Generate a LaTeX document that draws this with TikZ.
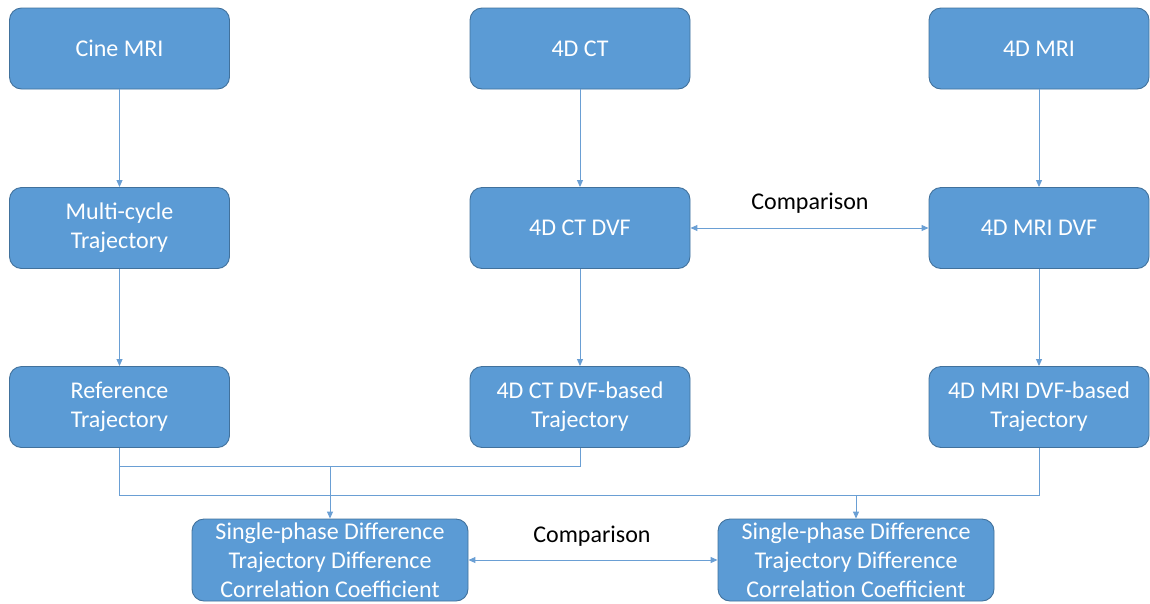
\documentclass[tikz,border=0pt]{standalone}
\usepackage{fontspec}
\setmainfont{Carlito}
\usetikzlibrary{arrows.meta}
\definecolor{boxfill}{HTML}{5B9BD5}
\definecolor{boxdraw}{HTML}{41719C}
\definecolor{linec}{HTML}{6A9FD4}
\begin{document}
\begin{tikzpicture}[x=1pt,y=-1pt,
  box/.style={draw=boxdraw, fill=boxfill, rounded corners=12pt, line width=0.9pt,
    text=white, align=center, font=\fontsize{24}{29}\selectfont,
    minimum width=220pt, minimum height=81pt, inner sep=0pt},
  wide/.style={box, minimum width=276pt, minimum height=82pt},
  lbl/.style={font=\fontsize{24}{28}\selectfont, text=black, inner sep=0pt},
  conn/.style={draw=linec, line width=1pt},
  tip/.tip={Triangle[length=7pt,width=6pt]},
  arr/.style={conn, -tip},
  darr/.style={conn, tip-tip}]
\useasboundingbox (0,0) rectangle (1150,603);

\node[box] (cine) at (119.5,48.5) {Cine MRI};
\node[box] (ct) at (580,48.5) {4D CT};
\node[box] (mri) at (1039,48.5) {4D MRI};

\node[box] (multi) at (119.5,228) {Multi-cycle\\Trajectory};
\node[box] (ctdvf) at (580,228) {4D CT DVF};
\node[box] (mridvf) at (1039,228) {4D MRI DVF};

\node[box] (ref) at (119.5,407) {Reference\\Trajectory};
\node[box] (ctb) at (580,407) {4D CT DVF-based\\Trajectory};
\node[box] (mrib) at (1039,407) {4D MRI DVF-based\\Trajectory};

\node[wide] (resL) at (330,560) {Single-phase Difference\\Trajectory Difference\\Correlation Coefficient};
\node[wide] (resR) at (856,560) {Single-phase Difference\\Trajectory Difference\\Correlation Coefficient};

\draw[arr] (cine) -- (multi);
\draw[arr] (multi) -- (ref);
\draw[arr] (ct) -- (ctdvf);
\draw[arr] (ctdvf) -- (ctb);
\draw[arr] (mri) -- (mridvf);
\draw[arr] (mridvf) -- (mrib);

\coordinate (ja) at (119.5,466);
\coordinate (jb) at (119.5,495);
\draw[conn] (ref.south) -- (jb) -| (mrib.south);
\draw[conn] (ctb.south) |- (ja);
\coordinate (jl) at (resL.north |- ja);
\coordinate (jr) at (resR.north |- jb);
\draw[arr] (jl) -- (resL.north);
\draw[arr] (jr) -- (resR.north);

\draw[darr] (ctdvf) -- (mridvf);
\node[lbl] (cmp1) at (810,203) {Comparison};
\draw[darr] (resL) -- (resR);
\node[lbl] (cmp2) at (592,536) {Comparison};
\end{tikzpicture}
\end{document}
